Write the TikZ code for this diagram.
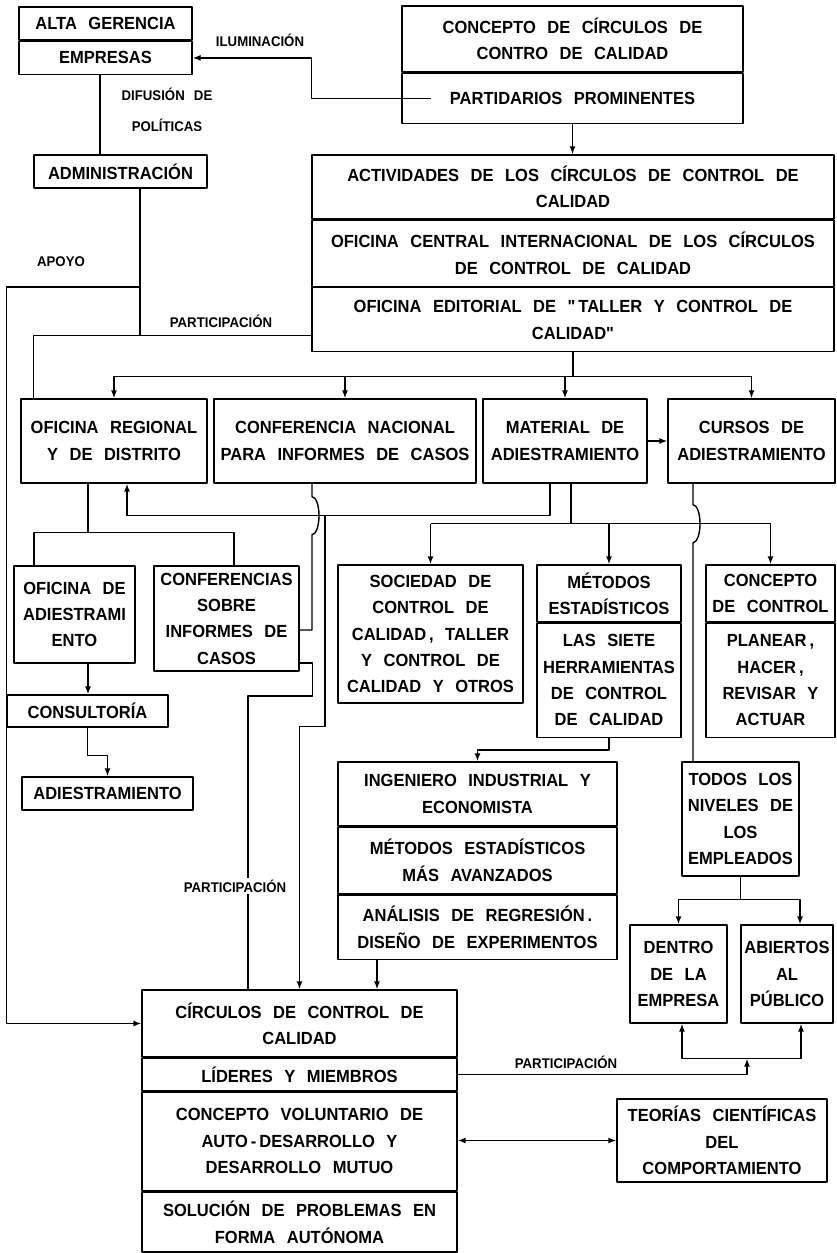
\documentclass[tikz,border=0pt]{standalone}
\usepackage{fontspec}
\setmainfont{Liberation Sans}[FakeStretch=0.94, WordSpace=2.5, Ligatures=TeXOff]
\usetikzlibrary{arrows.meta, positioning, calc}

\begin{document}
\begin{tikzpicture}[x=0.02cm, y=-0.02cm, >={Latex[length=1.6mm,width=1.2mm]}, line width=0.8pt, line join=round]

	%======================
	% STYLES
	%======================
	\tikzset{
		box/.style={draw, align=center, inner xsep=1pt, inner ysep=2pt, font=\fontsize{10}{15}\selectfont\bfseries},
		tag/.style={inner sep=1pt, align=center, font=\fontsize{8}{17.5}\selectfont\bfseries}
	}

	\useasboundingbox (0,0) rectangle (837,1253);

	%======================
	% TOP: MANAGEMENT AND CONCEPT
	%======================
	\node[box, minimum width=3.46cm, minimum height=0.66cm] (alta) at (105.5,23.5) {ALTA GERENCIA};
	\node[box, minimum width=3.46cm, minimum height=0.66cm, anchor=north] (empresas) at (alta.south) {EMPRESAS};
	\node[box, minimum width=3.46cm, minimum height=0.66cm] (admin) at (120.5,171.5) {ADMINISTRACIÓN};

	\node[box, minimum width=6.82cm, minimum height=1.32cm] (concepto) at (572.5,39) {CONCEPTO DE CÍRCULOS DE\\CONTRO DE CALIDAD};
	\node[box, minimum width=6.82cm, minimum height=1.0cm, anchor=north] (partid) at (concepto.south) {PARTIDARIOS PROMINENTES};

	\node[box, minimum width=10.44cm, minimum height=1.28cm] (activ) at (573,187) {ACTIVIDADES DE LOS CÍRCULOS DE CONTROL DE\\CALIDAD};
	\node[box, minimum width=10.44cm, minimum height=1.32cm, anchor=north] (oficentral) at (activ.south) {OFICINA CENTRAL INTERNACIONAL DE LOS CÍRCULOS\\DE CONTROL DE CALIDAD};
	\node[box, minimum width=10.44cm, minimum height=1.28cm, anchor=north] (editorial) at (oficentral.south) {OFICINA EDITORIAL DE "\,TALLER Y CONTROL DE\\CALIDAD"};

	%======================
	% SECOND ROW
	%======================
	\node[box, minimum width=3.72cm, minimum height=1.68cm] (regional) at (114,441) {OFICINA REGIONAL\\Y DE DISTRITO};
	\node[box, minimum width=5.24cm, minimum height=1.68cm] (confnac) at (345,441) {CONFERENCIA NACIONAL\\PARA INFORMES DE CASOS};
	\node[box, minimum width=3.28cm, minimum height=1.68cm] (material) at (565,441) {MATERIAL DE\\ADIESTRAMIENTO};
	\node[box, minimum width=3.34cm, minimum height=1.68cm] (cursos) at (751.5,441) {CURSOS DE\\ADIESTRAMIENTO};

	%======================
	% LEFT COLUMN
	%======================
	\node[box, minimum width=2.42cm, minimum height=1.94cm] (ofiadies) at (74.5,614.5) {OFICINA DE\\ADIESTRAMI\\ENTO};
	\node[box, minimum width=2.9cm, minimum height=2.1cm] (confcasos) at (226.5,618.5) {CONFERENCIAS\\SOBRE\\INFORMES DE\\CASOS};
	\node[box, minimum width=3.22cm, minimum height=0.64cm] (consult) at (87.5,711) {CONSULTORÍA};
	\node[box, minimum width=3.42cm, minimum height=0.66cm] (adiestr) at (107.5,793.5) {ADIESTRAMIENTO};

	%======================
	% TRAINING MATERIAL
	%======================
	\node[box, minimum width=3.7cm, minimum height=2.76cm] (sociedad) at (430.5,634) {SOCIEDAD DE\\CONTROL DE\\CALIDAD\,, TALLER\\Y CONTROL DE\\CALIDAD Y OTROS};
	\node[box, minimum width=2.88cm, minimum height=1.14cm] (metodos) at (609,593.5) {MÉTODOS\\ESTADÍSTICOS};
	\node[box, minimum width=2.88cm, minimum height=2.28cm, anchor=north] (siete) at (metodos.south) {LAS SIETE\\HERRAMIENTAS\\DE CONTROL\\DE CALIDAD};
	\node[box, minimum width=2.58cm, minimum height=1.14cm] (concontrol) at (770.5,593.5) {CONCEPTO\\DE CONTROL};
	\node[box, minimum width=2.58cm, minimum height=2.28cm, anchor=north] (planear) at (concontrol.south) {PLANEAR\,,\\HACER\,,\\REVISAR Y\\ACTUAR};

	\node[box, minimum width=5.58cm, minimum height=1.28cm] (ingeniero) at (477.5,794) {INGENIERO INDUSTRIAL Y\\ECONOMISTA};
	\node[box, minimum width=5.58cm, minimum height=1.32cm, anchor=north] (avanzados) at (ingeniero.south) {MÉTODOS ESTADÍSTICOS\\MÁS AVANZADOS};
	\node[box, minimum width=5.58cm, minimum height=1.3cm, anchor=north] (regresion) at (avanzados.south) {ANÁLISIS DE REGRESIÓN\,.\\DISEÑO DE EXPERIMENTOS};

	%======================
	% COURSES
	%======================
	\node[box, minimum width=2.34cm, minimum height=2.28cm] (todos) at (740.5,819) {TODOS LOS\\NIVELES DE\\LOS\\EMPLEADOS};
	\node[box, minimum width=1.94cm, minimum height=1.96cm] (dentro) at (678.5,974) {DENTRO\\DE LA\\EMPRESA};
	\node[box, minimum width=1.84cm, minimum height=1.96cm] (abiertos) at (787,974) {ABIERTOS\\AL\\PÚBLICO};

	%======================
	% BOTTOM: THE CIRCLES
	%======================
	\node[box, minimum width=6.3cm, minimum height=1.34cm] (circulos) at (299.5,1023.5) {CÍRCULOS DE CONTROL DE\\CALIDAD};
	\node[box, minimum width=6.3cm, minimum height=0.64cm, anchor=north] (lideres) at (circulos.south) {LÍDERES Y MIEMBROS};
	\node[box, minimum width=6.3cm, minimum height=1.98cm, anchor=north] (voluntario) at (lideres.south) {CONCEPTO VOLUNTARIO DE\\AUTO\,-\,DESARROLLO Y\\DESARROLLO MUTUO};
	\node[box, minimum width=6.3cm, minimum height=1.2cm, anchor=north] (solucion) at (voluntario.south) {SOLUCIÓN DE PROBLEMAS EN\\FORMA AUTÓNOMA};
	\node[box, minimum width=4.2cm, minimum height=1.66cm] (teorias) at (722,1140.5) {TEORÍAS CIENTÍFICAS\\DEL\\COMPORTAMIENTO};

	%======================
	% CONNECTORS
	%======================
	% concept -> empresas (iluminacion)
	\draw[->] ([xshift=6mm]partid.west) -- ([xshift=-1.8cm]partid.west) |- (empresas.east);
	\draw[->] (partid.south) -- (partid.south |- activ.north);
	% empresas -- administracion
	\draw ([xshift=-1.1mm]empresas.south) -- ([xshift=-1.1mm]empresas.south |- admin.north);

	% administracion: apoyo and participacion
	\coordinate (ad) at ([xshift=3.9mm]admin.south);
	\coordinate (pj) at ([yshift=-3.2mm]editorial.west);
	\draw (ad) -- (ad |- pj);
	\draw (pj) -| (admin.west |- regional.north);
	\draw[->] (ad |- editorial.north) -| (consult.west) -- (consult.west |- circulos.west) -- (circulos.west);

	% distribution to the second row
	\draw (editorial.south) -- ++(0,24) coordinate (dist);
	\draw (dist -| regional.north) -- (dist -| cursos.north);
	\foreach \n in {regional,confnac,material,cursos}
		\draw[->] (dist -| \n.north) -- (\n.north);
	\draw[->] (material.east) -- (cursos.west);

	% material -> regional, material -> circles
	\draw[->] ([xshift=-3mm]material.south) -- ++(0,32) coordinate (fb) -| ([xshift=2.6mm]regional.south);
	\draw[->] ([xshift=-4.5cm]fb) -- ++(0,211) -| (circulos.north);

	% conferencia nacional -> conferencias (hop over)
	\draw ([xshift=-6.6mm]confnac.south) -- ++(0,13)
		arc[start angle=90, end angle=-90, x radius=1.4mm, y radius=3.8mm]
		|- ([yshift=-2.3mm]confcasos.east);
	% conferencias -> circles (participacion)
	\draw ([yshift=-8.9mm]confcasos.east) -- ++(13,0) -- ++(0,33) -| ([xshift=-1.03cm]circulos.north);

	% regional -> oficina de adiestramiento, conferencias
	\draw ([xshift=-5.2mm]regional.south) -- ++(0,49) coordinate (rb);
	\draw ([xshift=-8.1mm]ofiadies.north) |- (rb) -| ([xshift=1.5mm]confcasos.north);
	\draw[->] ([xshift=2.7mm]ofiadies.south) -- ([xshift=2.7mm]ofiadies.south |- consult.north);
	\draw[->] (consult.south) -- ++(0,28) -| (adiestr.north);

	% material -> sociedad, metodos, concepto de control
	\draw ([xshift=1.2mm]material.south) -- ++(0,40) coordinate (mat);
	\draw (mat -| sociedad.north) -- (mat -| concontrol.north);
	\foreach \n in {sociedad,metodos,concontrol}
		\draw[->] (mat -| \n.north) -- (\n.north);

	% cursos -> todos los niveles (hop over)
	\draw ([xshift=-1.17cm]cursos.south) -- ++(0,21)
		arc[start angle=90, end angle=-90, x radius=1.4mm, y radius=3.8mm]
		-- ([xshift=-1.17cm]cursos.south |- todos.north);

	\draw[->] (siete.south) -- ++(0,12) -| (ingeniero.north);
	\draw[->] ([xshift=-2.01cm]regresion.south) -- ([xshift=-2.01cm]regresion.south |- circulos.north);

	\draw (todos.south) -- ++(0,23) coordinate (tb);
	\draw[->] (tb) -| (dentro.north);
	\draw[->] (tb) -| ([xshift=2.6mm]abiertos.north);

	% lideres -> dentro / abiertos (participacion)
	\coordinate (pb) at ([xshift=1.37cm, yshift=-7mm]dentro.south);
	\draw[->] (pb) -| ([xshift=0.7mm]dentro.south);
	\draw[->] (pb) -| ([xshift=2.8mm]abiertos.south);
	\draw[->] (lideres.east) -| (pb);
	\draw[<->] (teorias.west -| voluntario.east) -- (teorias.west);

	%======================
	% LABELS
	%======================
	\node[tag] (ilum) at (260,40) {ILUMINACIÓN};
	\node[tag] (difusion) at (167,110) {DIFUSIÓN DE\\POLÍTICAS};
	\node[tag] (apoyo) at (61,262) {APOYO};
	\node[tag] (partic1) at (221,321) {PARTICIPACIÓN};
	\node[tag, fill=white] (partic2) at (235,886) {PARTICIPACIÓN};
	\node[tag] (partic3) at (566,1062) {PARTICIPACIÓN};

\end{tikzpicture}
\end{document}
